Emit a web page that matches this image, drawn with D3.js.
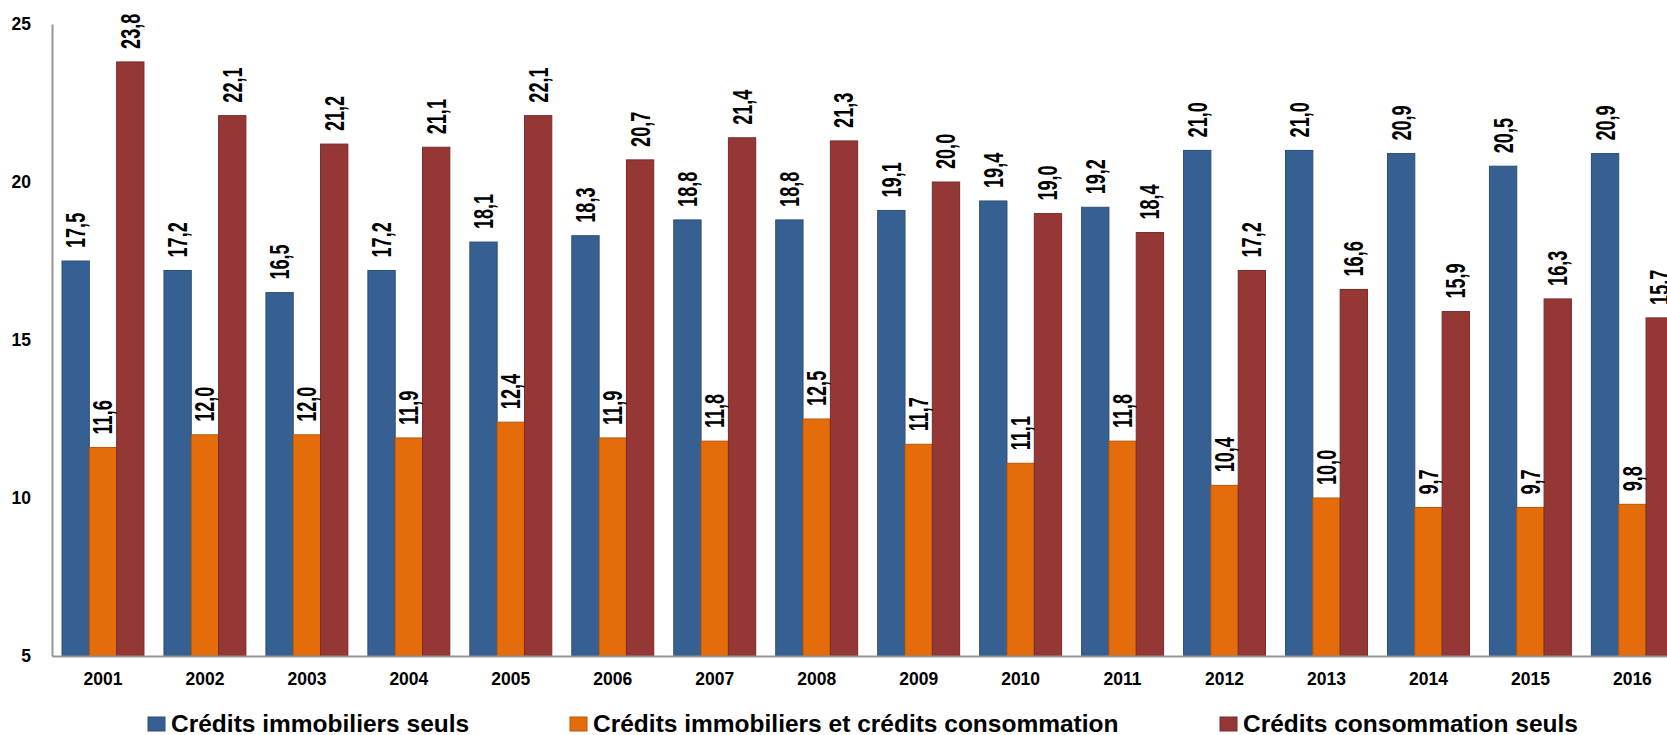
<!DOCTYPE html>
<html>
<head>
<meta charset="utf-8">
<script src="https://cdn.jsdelivr.net/npm/d3@7"></script>
<style>
  html, body { margin: 0; padding: 0; background: #fff; }
  svg { display: block; font-family: "Liberation Sans", Arial, sans-serif; font-weight: bold; }
</style>
</head>
<body>
<div id="chart"></div>
<script>
// années
const years = ['2001', '2002', '2003', '2004', '2005', '2006', '2007', '2008',
  '2009', '2010', '2011', '2012', '2013', '2014', '2015', '2016'];

// séries
const immoSeuls = [17.5, 17.2, 16.5, 17.2, 18.1, 18.3, 18.8, 18.8, 19.1, 19.4, 19.2, 21.0, 21.0, 20.9, 20.5, 20.9];
const immoEtConso = [11.6, 12.0, 12.0, 11.9, 12.4, 11.9, 11.8, 12.5, 11.7, 11.1, 11.8, 10.4, 10.0, 9.7, 9.7, 9.8];
const consoSeuls = [23.8, 22.1, 21.2, 21.1, 22.1, 20.7, 21.4, 21.3, 20.0, 19.0, 18.4, 17.2, 16.6, 15.9, 16.3, 15.7];

const seriesNames = ['Crédits immobiliers seuls', 'Crédits immobiliers et crédits consommation', 'Crédits consommation seuls'];
const yTicks = [5, 10, 15, 20, 25];

const colors = ['#376092', '#e46c0a', '#953735'];

let width = 1667,
  height = 735;

const series = [immoSeuls, immoEtConso, consoSeuls].map((vals, i) => ({
  name: seriesNames[i],
  color: colors[i],
  values: vals
}));

// la zone du graphique dépasse le bord droit, comme l'original
let x0 = d3.scaleBand()
  .domain(years)
  .range([52, 52 + 16 * 101.96]);

let x1 = d3.scaleBand()
  .domain(d3.range(series.length))
  .range([10, x0.bandwidth() - 10]);

let y = d3.scaleLinear()
  .domain([5, 25])
  .range([656, 24]);

const fmt = v => d3.format('.1f')(v).replace('.', ',');

const svg = d3.select('#chart').append('svg')
  .attr('width', width)
  .attr('height', height);

// barres
const groups = svg.append('g').selectAll('g')
  .data(years)
  .enter().append('g')
  .attr('transform', d => `translate(${x0(d)},0)`);

groups.selectAll('rect')
  .data((d, i) => series.map((s, k) => ({ k, value: s.values[i], color: s.color })))
  .enter().append('rect')
  .attr('x', d => x1(d.k))
  .attr('y', d => y(d.value))
  .attr('width', x1.bandwidth())
  .attr('height', d => y(5) - y(d.value))
  .attr('fill', d => d.color)
  .attr('stroke', d => d3.color(d.color).darker(0.6))
  .attr('stroke-width', 1);

// étiquettes de valeur
groups.selectAll('text')
  .data((d, i) => series.map((s, k) => ({ k, value: s.values[i] })))
  .enter().append('text')
  .attr('transform', d => `translate(${x1(d.k) + x1.bandwidth() / 2},${y(d.value) - 13}) rotate(-90) scale(0.67,1)`)
  .attr('dy', '0.35em')
  .attr('text-anchor', 'start')
  .style('font-size', '27px')
  .attr('fill', '#000')
  .text(d => fmt(d.value));

// axes
const axisY = svg.append('g')
  .attr('transform', 'translate(52,0)')
  .call(d3.axisLeft(y).tickValues(yTicks).tickSize(0).tickPadding(21).tickFormat(d3.format('d')));
axisY.select('.domain').attr('stroke', '#969696').attr('stroke-width', 2);
axisY.selectAll('text')
  .style('font-size', '17.5px')
  .style('font-family', '"Liberation Sans", Arial, sans-serif')
  .style('font-weight', 'bold')
  .attr('fill', '#000');

const axisX = svg.append('g')
  .attr('transform', 'translate(0,656)')
  .call(d3.axisBottom(x0).tickSize(0).tickPadding(17));
axisX.select('.domain').attr('stroke', '#969696').attr('stroke-width', 2);
axisX.selectAll('text')
  .style('font-size', '17.5px')
  .style('font-family', '"Liberation Sans", Arial, sans-serif')
  .style('font-weight', 'bold')
  .attr('fill', '#000');

// légende
const legendX = [148, 570, 1220];
const legend = svg.append('g').selectAll('g')
  .data(series)
  .enter().append('g')
  .attr('transform', (d, i) => `translate(${legendX[i]},723)`);

legend.append('rect')
  .attr('x', 0)
  .attr('y', -6)
  .attr('width', 17)
  .attr('height', 14)
  .attr('fill', d => d.color)
  .attr('stroke', d => d3.color(d.color).darker(0.6));

legend.append('text')
  .attr('x', 23)
  .attr('dy', '0.35em')
  .style('font-size', '24.5px')
  .text(d => d.name);
</script>
</body>
</html>
